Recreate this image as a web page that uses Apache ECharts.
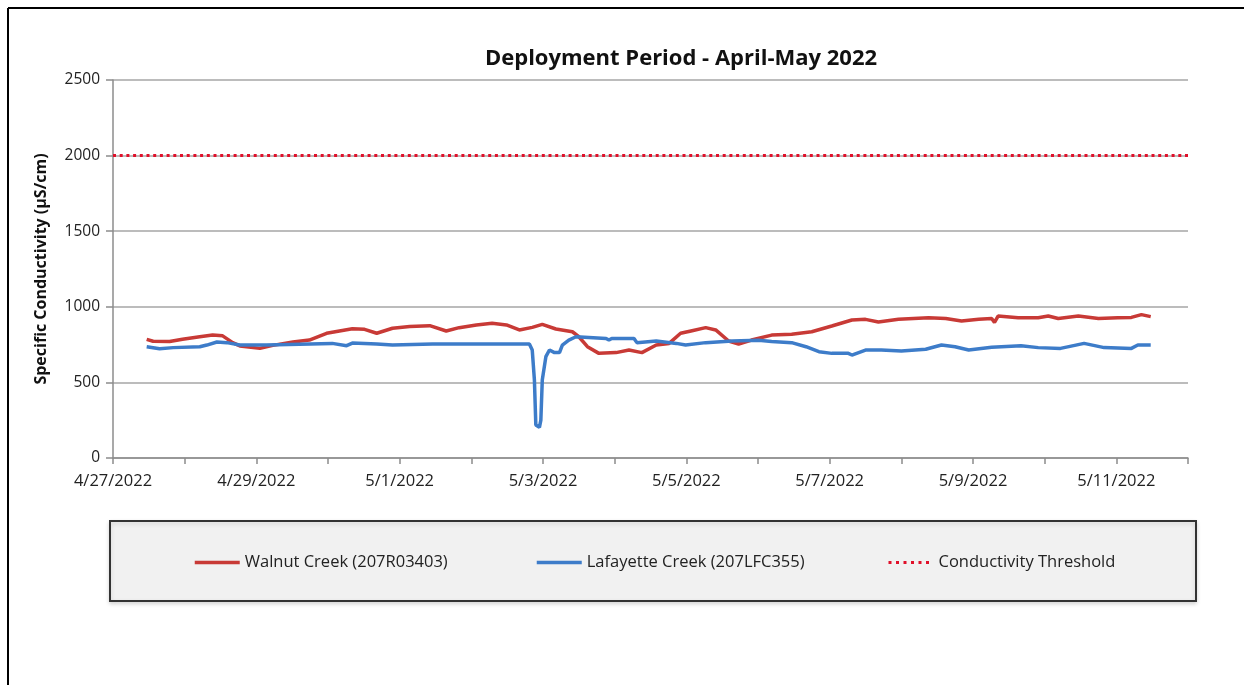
<!DOCTYPE html>
<html>
<head>
<meta charset="utf-8">
<title>Deployment Period - April-May 2022</title>
<script src="https://cdn.jsdelivr.net/npm/echarts@6/dist/echarts.min.js"></script>
<style>
  html, body { margin: 0; padding: 0; background: #fff; }
  #main { width: 1244px; height: 685px; }
</style>
</head>
<body>
<div id="main"></div>
<script>
// days after 4/27/2022 00:00 and specific conductivity (uS/cm)
var walnutDays = [0.47, 0.56, 0.79, 0.97, 1.21, 1.39, 1.53, 1.67, 1.77, 2.05, 2.23, 2.51, 2.74, 2.98, 3.16, 3.34, 3.51, 3.68, 3.90, 4.14,
  4.42, 4.65, 4.83, 5.07, 5.29, 5.49, 5.67, 5.85, 5.99, 6.18, 6.41, 6.50, 6.62, 6.78, 7.02, 7.20, 7.38, 7.58, 7.76, 7.92,
  8.08, 8.27, 8.41, 8.59, 8.73, 8.91, 9.19, 9.47, 9.75, 10.03, 10.31, 10.50, 10.68, 10.96, 11.38, 11.62, 11.84, 12.08, 12.26, 12.30,
  12.35, 12.63, 12.91, 13.05, 13.19, 13.47, 13.75, 14.02, 14.21, 14.35, 14.48];
var walnutValues = [785, 772, 770, 785, 802, 813, 808, 763, 741, 725, 745, 767, 780, 825, 840, 855, 851, 825, 858, 869,
  875, 840, 862, 880, 891, 880, 847, 864, 884, 853, 835, 802, 736, 692, 697, 714, 697, 747, 758, 825,
  842, 862, 847, 774, 754, 780, 813, 818, 835, 873, 913, 917, 900, 917, 928, 923, 906, 917, 923, 897,
  939, 928, 928, 939, 923, 939, 923, 928, 930, 948, 935];

var lafayetteDays = [0.47, 0.65, 0.84, 1.21, 1.31, 1.45, 1.59, 1.77, 2.14, 3.06, 3.26, 3.34, 3.68, 3.90, 4.46, 5.81, 5.85, 5.88, 5.90, 5.95,
  5.97, 5.99, 6.04, 6.09, 6.16, 6.23, 6.27, 6.36, 6.46, 6.88, 6.92, 6.96, 7.27, 7.31, 7.58, 7.86, 7.99, 8.27, 8.64, 9.01,
  9.19, 9.47, 9.67, 9.85, 10.03, 10.26, 10.31, 10.50, 10.72, 11.00, 11.34, 11.56, 11.75, 11.94, 12.26, 12.67, 12.91, 13.22, 13.37, 13.55,
  13.83, 14.21, 14.30, 14.48];
var lafayetteValues = [736, 723, 730, 736, 747, 767, 763, 747, 747, 758, 743, 760, 754, 747, 754, 754, 714, 516, 218, 203,
  251, 516, 670, 714, 697, 697, 747, 780, 802, 791, 780, 791, 791, 763, 774, 758, 747, 763, 774, 778,
  770, 763, 736, 703, 692, 692, 681, 714, 714, 708, 719, 747, 736, 714, 732, 743, 730, 725, 740, 758,
  730, 725, 747, 747];

var thresholdDays = [0, 15];
var thresholdValue = 2000;

var yTicks = [0, 500, 1000, 1500, 2000, 2500];
var seriesNames = ['Walnut Creek (207R03403)', 'Lafayette Creek (207LFC355)', 'Conductivity Threshold'];

var red = '#c83a36', blue = '#3d7cc9', dotRed = '#e0102a';

function pairs(xs, ys) {
  return xs.map(function (x, i) { return [x, ys[i]]; });
}

var font = '"Open Sans", Lato, sans-serif';
var myChart = echarts.init(document.getElementById('main'));

function legendAt(name, left, line) {
  return {
    data: [name],
    left: left,
    top: 554,
    padding: 0,
    itemWidth: 45,
    itemHeight: 16,
    itemGap: 7,
    z: 5,
    itemStyle: { opacity: 0 },
    lineStyle: line,
    textStyle: { fontFamily: font, fontSize: 16.5, color: '#222' }
  };
}

var option = {
  animation: false,
  backgroundColor: '#fff',
  title: {
    text: 'Deployment Period - April-May 2022',
    left: 681,
    top: 48,
    padding: 0,
    textAlign: 'center',
    textStyle: { fontFamily: font, fontSize: 22, fontWeight: 'bold', color: '#111' }
  },
  graphic: [
    { type: 'line', shape: { x1: 8, y1: 8, x2: 1244, y2: 8 }, style: { stroke: '#000', lineWidth: 2 } },
    { type: 'line', shape: { x1: 8, y1: 8, x2: 8, y2: 685 }, style: { stroke: '#000', lineWidth: 2 } },
    {
      type: 'rect', z: 1,
      shape: { x: 110, y: 521, width: 1086, height: 80 },
      style: { fill: '#f1f1f1', stroke: '#333', lineWidth: 2, shadowBlur: 4, shadowColor: 'rgba(0,0,0,0.15)', shadowOffsetY: 2 }
    }
  ],
  legend: [
    legendAt(seriesNames[0], 193, { width: 3.5, color: red }),
    legendAt(seriesNames[1], 535, { width: 3.5, color: blue }),
    legendAt(seriesNames[2], 887, { width: 3, color: dotRed, type: [3, 4.5] })
  ],
  grid: { left: 113, right: 56, top: 80, bottom: 227 },
  xAxis: {
    type: 'value',
    min: 0,
    max: 15,
    interval: 1,
    axisLine: { show: true, lineStyle: { color: '#8c8c8c', width: 1.5 } },
    axisTick: { show: true, length: 6, lineStyle: { color: '#8c8c8c', width: 1.5 } },
    splitLine: { show: false },
    axisLabel: {
      margin: 15,
      fontFamily: font,
      fontSize: 16.5,
      color: '#222',
      formatter: function (v) {
        if (v % 2 !== 0) return '';
        var d = new Date(2022, 3, 27 + v);
        return (d.getMonth() + 1) + '/' + d.getDate() + '/' + d.getFullYear();
      }
    }
  },
  yAxis: {
    type: 'value',
    min: yTicks[0],
    max: yTicks[yTicks.length - 1],
    interval: 500,
    name: 'Specific Conductivity (µS/cm)',
    nameLocation: 'middle',
    nameGap: 64,
    nameTextStyle: { fontFamily: font, fontSize: 16, fontWeight: 'bold', color: '#111' },
    axisLine: { show: true, lineStyle: { color: '#8c8c8c', width: 1.5 } },
    axisTick: { show: true, length: 7, lineStyle: { color: '#8c8c8c', width: 1.5 } },
    splitLine: { show: true, lineStyle: { color: '#a6a6a6', width: 1.5 } },
    axisLabel: {
      margin: 13, fontFamily: font, fontSize: 15.5, color: '#222',
      formatter: function (v) { return String(v); }
    }
  },
  series: [
    {
      name: seriesNames[0],
      type: 'line',
      data: pairs(walnutDays, walnutValues),
      symbol: 'none',
      color: red,
      lineStyle: { width: 3.5, color: red },
      z: 3
    },
    {
      name: seriesNames[1],
      type: 'line',
      data: pairs(lafayetteDays, lafayetteValues),
      symbol: 'none',
      color: blue,
      lineStyle: { width: 3.5, color: blue },
      z: 4
    },
    {
      name: seriesNames[2],
      type: 'line',
      data: thresholdDays.map(function (d) { return [d, thresholdValue]; }),
      symbol: 'none',
      color: dotRed,
      lineStyle: { width: 3, color: dotRed, type: [3, 3.7] },
      z: 2
    }
  ]
};

myChart.setOption(option);
</script>
</body>
</html>
